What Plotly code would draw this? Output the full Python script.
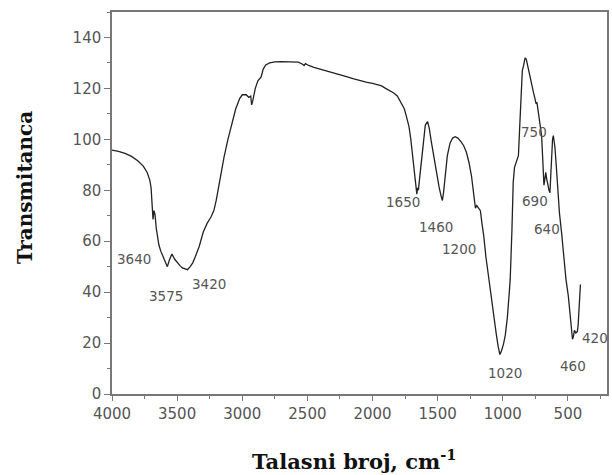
import plotly.graph_objects as go

wavenumber = [4000, 3950, 3900, 3850, 3800, 3760, 3730, 3710, 3700, 3690, 3685, 3678, 3670, 3660, 3650,
              3640, 3625, 3600, 3585, 3575, 3560, 3540, 3520, 3500, 3480, 3460, 3440, 3420, 3400, 3380,
              3360, 3330, 3300, 3270, 3240, 3218, 3200, 3170, 3140, 3110, 3080, 3050, 3020, 3000, 2970,
              2950, 2935, 2928, 2920, 2900, 2880, 2865, 2855, 2840, 2820, 2790, 2750, 2700, 2650, 2600,
              2570, 2540, 2525, 2515, 2490, 2450, 2400, 2350, 2300, 2250, 2200, 2150, 2100, 2050, 2000,
              1960, 1930, 1900, 1870, 1840, 1810, 1780, 1756, 1740, 1720, 1706, 1695, 1685, 1675, 1665,
              1660, 1655, 1648, 1640, 1625, 1610, 1595, 1578, 1565, 1550, 1530, 1510, 1490, 1475, 1464,
              1455, 1440, 1426, 1405, 1385, 1365, 1345, 1320, 1300, 1280, 1260, 1240, 1225, 1215, 1210,
              1200, 1185, 1172, 1160, 1146, 1130, 1107, 1085, 1069, 1050, 1035, 1022, 1010, 995, 981,
              965, 950, 943, 930, 920, 910, 892, 880, 870, 860, 850, 840, 829, 820, 810,
              795, 780, 765, 755, 745, 738, 725, 712, 702, 695, 690, 684, 678, 670, 663,
              655, 645, 638, 632, 625, 618, 612, 600, 590, 578, 565, 548, 530, 515, 497,
              485, 472, 465, 458, 450, 447, 440, 435, 428, 422, 415, 410, 404]

transmittance = [95.8, 95.3, 94.5, 93.3, 91.5, 89.5, 87, 84, 81, 72, 68.5, 72, 70.5, 65, 61.5,
                 58.5, 56, 53, 51, 50, 52.5, 55, 53, 51.5, 50.5, 49.5, 49, 48.8, 50, 51.5,
                 54, 58, 63.5, 67, 69.5, 72, 76, 85, 93, 100, 106, 112, 116, 117.5, 117.5,
                 116.5, 117, 113.5, 115, 120, 123, 123.8, 124.5, 127.5, 129.2, 130, 130.4, 130.5, 130.4, 130.3,
                 130.3, 129.6, 129, 129.7, 129, 128.3, 127.6, 127, 126.3, 125.5, 124.6, 123.8, 123, 122.5, 122,
                 121.5, 121, 120, 119.2, 118.3, 117, 114.5, 112, 109, 105, 100, 95, 89, 84, 80,
                 78.5, 81, 80, 84, 92, 100, 105.5, 107, 104.5, 99.5, 93, 87, 81.5, 78, 76,
                 79, 87, 93.5, 98.5, 100.5, 101, 100.5, 99, 97.5, 95, 91, 85.5, 80, 76, 73,
                 74, 73, 72, 67, 62, 54, 45, 35.5, 29, 23.5, 18.5, 15.5, 17, 19.5, 23,
                 30, 40, 45, 64, 83, 89, 92, 93.6, 105, 120, 127, 129, 132, 131.5, 129,
                 125, 121, 118.5, 116.5, 114, 114.5, 110, 105, 101.5, 94, 88, 82, 84, 87, 84.5,
                 82, 80, 79, 85, 95, 100, 101.5, 97, 90, 80, 71, 63, 52, 45, 38.5,
                 32, 26.7, 21.5, 22.5, 25, 24.7, 24, 24.1, 24.5, 26.7, 33, 38, 43]

peak_labels = ["3640", "3575", "3420", "1650", "1460", "1200", "750", "690", "640", "1020", "460", "420"]
peak_label_x = [3828, 3587, 3256, 1769, 1515, 1336, 764, 753, 663, 981, 459, 294]
peak_label_y = [53, 38.5, 43, 75.3, 65.4, 57, 102.8, 75.9, 64.8, 8.2, 10.9, 22.1]

x_ticks = [4000, 3500, 3000, 2500, 2000, 1500, 1000, 500]
y_ticks = [0, 20, 40, 60, 80, 100, 120, 140]

fig = go.Figure()
fig.add_trace(go.Scatter(x=wavenumber, y=transmittance, mode="lines",
                         line=dict(color="#222222", width=1.3), showlegend=False))

for t, xx, yy in zip(peak_labels, peak_label_x, peak_label_y):
    fig.add_annotation(x=xx, y=yy, xref="x", yref="y", text=t, showarrow=False,
                       font=dict(family="DejaVu Sans", size=13.5, color="#555555"))

fig.add_annotation(xref="paper", yref="paper", x=0.489, y=-0.174, xanchor="center", yanchor="middle",
                   text="<b>Talasni broj, cm<sup>-1</sup></b>",
                   showarrow=False, font=dict(family="DejaVu Serif", size=21, color="#111111"))
fig.add_annotation(xref="paper", yref="paper", x=-0.177, y=0.54, xanchor="center", yanchor="middle",
                   text="<b>Transmitanca</b>", textangle=-90,
                   showarrow=False, font=dict(family="DejaVu Serif", size=20, color="#111111"))

fig.update_layout(
    width=612, height=475,
    margin=dict(l=112, r=3, t=12, b=81),
    paper_bgcolor="white", plot_bgcolor="white",
    font=dict(family="DejaVu Sans", color="#555555", size=15),
    xaxis=dict(range=[4000, 200], tickvals=x_ticks, ticktext=[str(v) for v in x_ticks],
               showgrid=False, zeroline=False, showline=True, linecolor="#777777", linewidth=1.5,
               mirror=True, ticks="outside", ticklen=5, tickcolor="#777777",
               minor=dict(ticks="outside", dtick=250, ticklen=3, tickcolor="#777777"),
               tickfont=dict(family="DejaVu Sans", size=15, color="#555555")),
    yaxis=dict(range=[0, 150], tickvals=y_ticks, ticktext=[str(v) for v in y_ticks],
               showgrid=False, zeroline=False, showline=True, linecolor="#777777", linewidth=1.5,
               mirror=True, ticks="outside", ticklen=6, tickcolor="#777777",
               minor=dict(ticks="outside", dtick=10, ticklen=3, tickcolor="#777777"),
               tickfont=dict(family="DejaVu Sans", size=15, color="#555555")),
)

fig.write_html("out.html")
